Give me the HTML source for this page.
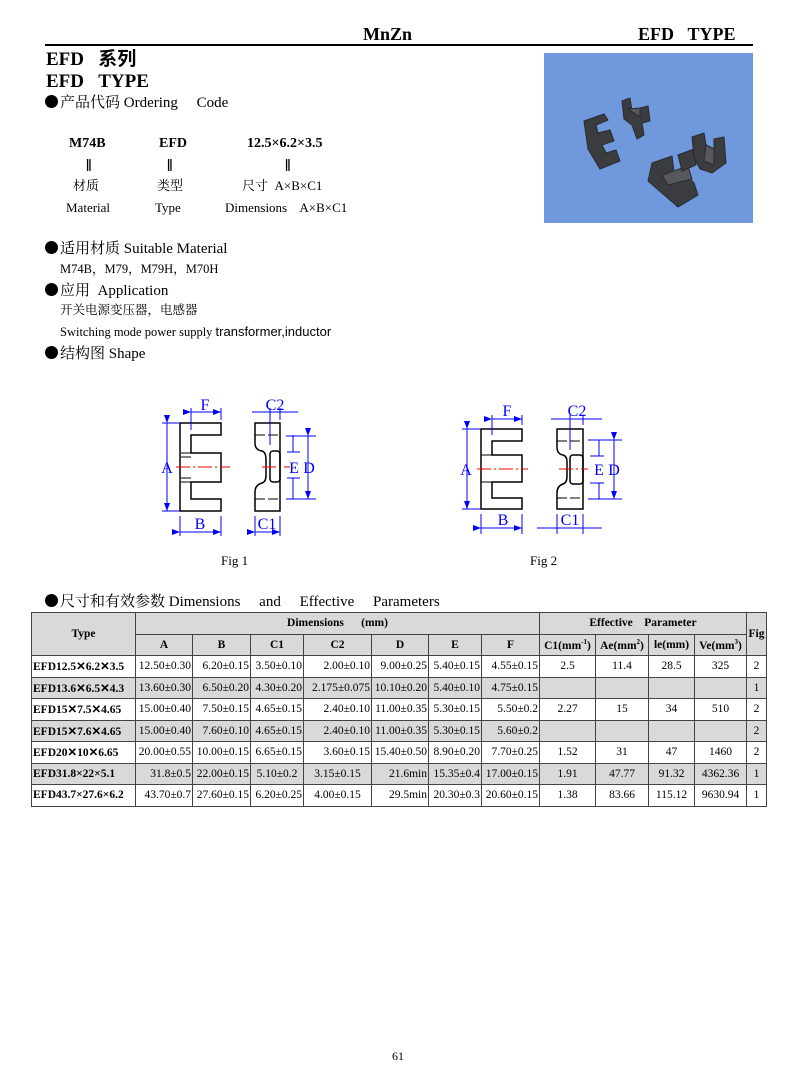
<!DOCTYPE html>
<html><head><meta charset="utf-8"><style>
body{margin:0;width:794px;height:1077px;background:#fff;position:relative;font-family:"Liberation Serif","Noto Serif CJK SC",serif;color:#000;overflow:hidden}
.t{position:absolute;white-space:nowrap;line-height:1}
.b{font-weight:bold}
.bu{display:inline-block;width:13px;height:13px;border-radius:50%;background:#000;margin-right:2px;vertical-align:-1px}
table{position:absolute;left:31px;top:612px;border-collapse:collapse;font-size:11.5px;font-family:"Liberation Serif",serif}
td{border:1px solid #444;padding:0 1px;height:20.5px;white-space:nowrap;text-align:right}
tr.g td{background:#d9d9d9}
td.h{background:#d9d9d9;font-weight:bold;text-align:center}
td.ty{font-weight:bold;text-align:left;font-size:11.5px}
td.c{text-align:center}
</style></head><body>
<div class="t b" style="left:363px;top:25px;font-size:18px">MnZn</div>
<div class="t b" style="left:638px;top:25px;font-size:18px">EFD&nbsp;&nbsp;&nbsp;TYPE</div>
<div style="position:absolute;left:45px;top:44px;width:708px;height:2px;background:#000"></div>
<div class="t b" style="left:46px;top:50px;font-size:19px;font-family:'Liberation Serif','Noto Sans CJK SC',serif">EFD&nbsp;&nbsp;&nbsp;系列</div>
<div class="t b" style="left:46px;top:72px;font-size:19px">EFD&nbsp;&nbsp;&nbsp;TYPE</div>
<div class="t" style="left:45px;top:95px;font-size:15px"><span class="bu"></span>产品代码 Ordering&nbsp;&nbsp;&nbsp;&nbsp;&nbsp;Code</div>
<div class="t b" style="left:69px;top:137px;font-size:14px">M74B</div>
<div class="t b" style="left:159px;top:137px;font-size:14px">EFD</div>
<div class="t b" style="left:247px;top:137px;font-size:14px">12.5×6.2×3.5</div>
<div class="t b" style="left:86px;top:157px;font-size:17px">‖</div>
<div class="t b" style="left:167px;top:157px;font-size:17px">‖</div>
<div class="t b" style="left:285px;top:157px;font-size:17px">‖</div>
<div class="t" style="left:73px;top:179px;font-size:13px">材质</div>
<div class="t" style="left:157px;top:179px;font-size:13px">类型</div>
<div class="t" style="left:242px;top:179px;font-size:13px">尺寸&nbsp; A×B×C1</div>
<div class="t" style="left:66px;top:201px;font-size:13px">Material</div>
<div class="t" style="left:155px;top:201px;font-size:13px">Type</div>
<div class="t" style="left:225px;top:201px;font-size:13px">Dimensions&nbsp;&nbsp;&nbsp; A×B×C1</div>

<div style="position:absolute;left:544px;top:53px;width:209px;height:170px;background:#6f99dc;overflow:hidden">
<svg width="209" height="170">
<g fill="#3a3c40" stroke="#2a2a2e" stroke-width="1">
<path d="M40 68 L60 61 L64 67 L52 72 L54 80 L66 77 L70 88 L58 92 L62 100 L72 97 L76 108 L56 116 L44 96 Z"/>
<path d="M78 48 L86 45 L88 58 L96 64 L96 55 L104 53 L106 68 L98 70 L100 82 L93 86 L88 72 L80 66 Z"/>
<path d="M84 56 L96 55 L96 64 Z" fill="#55585e"/>
<path d="M104 128 L108 110 L128 103 L130 118 L118 122 L124 130 L144 124 L150 130 L154 142 L134 154 Z"/>
<path d="M118 122 L144 113 L148 126 L124 132 Z" fill="#55585e"/>
<path d="M134 102 L150 96 L152 112 L138 118 Z"/>
<path d="M148 84 L160 80 L162 92 L170 96 L170 86 L180 84 L182 110 L168 120 L156 116 L150 104 Z"/>
<path d="M162 92 L170 96 L170 112 L160 108 Z" fill="#55585e"/>
</g>
</svg></div>

<div class="t" style="left:45px;top:241px;font-size:15px"><span class="bu"></span>适用材质 Suitable Material</div>
<div class="t" style="left:60px;top:263px;font-size:12.5px">M74B，M79，M79H，M70H</div>
<div class="t" style="left:45px;top:283px;font-size:15px"><span class="bu"></span>应用&nbsp; Application</div>
<div class="t" style="left:60px;top:304px;font-size:12.5px">开关电源变压器，电感器</div>
<div class="t" style="left:60px;top:325px;font-size:12.5px">Switching mode power supply <span style="font-family:'Liberation Sans',sans-serif;font-size:13px">transformer,inductor</span></div>
<div class="t" style="left:45px;top:346px;font-size:15px"><span class="bu"></span>结构图 Shape</div>

<svg style="position:absolute;left:0;top:0" width="794" height="600">
<defs><marker id="ar" markerWidth="8" markerHeight="6" refX="8" refY="3" orient="auto"><path d="M0,0 L8,3 L0,6 Z" fill="#00f"/></marker></defs>
<g fill="none" stroke="#000" stroke-width="1.5">
<path d="M180 423 H221 V435 H191 V453 H221 V482 H191 V499 H221 V511 H180 Z"/>
<path d="M181 453 H191 M181 457 H191 M181 478 H191 M181 482 H191" stroke-width="1"/>
<path d="M255 423 H280 V511 H255 V492 Q255 485 262 483 Q266 482 266 475 V460 Q266 452 262 451 Q255 450 255 443 Z"/>
<rect x="270" y="451" width="10" height="31" rx="3"/>
<path d="M255 435 H280 M255 499 H280" stroke-dasharray="10 3" stroke-width="1"/>
<path d="M481 429 H522 V441 H492 V455 H522 V482 H492 V498 H522 V509 H481 Z"/>
<path d="M481 455 H492 M481 482 H492" stroke-width="1"/>
<path d="M557 429 H583 V509 H557 V493 Q557 486 563 484 Q567 483 567 476 V462 Q567 456 563 455 Q557 454 557 447 Z"/>
<rect x="570" y="455" width="13" height="29" rx="3"/>
<path d="M557 441 H583 M557 498 H583" stroke-dasharray="10 3" stroke-width="1"/>
</g>
<g stroke="#e00" stroke-width="1" stroke-dasharray="14 3 2 3">
<path d="M176 467 H230 M262 467 H290"/>
<path d="M477 469 H528 M559 469 H588"/>
</g>
<g stroke="#00f" stroke-width="1" fill="none">
<path d="M191 412 H221" marker-end="url(#ar)" marker-start="url(#ar)"/><path d="M191 408 V430 M221 408 V420"/>
<path d="M167 423 V511" marker-end="url(#ar)" marker-start="url(#ar)"/><path d="M162 423 H180 M162 511 H180"/>
<path d="M180 532 H221" marker-end="url(#ar)" marker-start="url(#ar)"/><path d="M180 516 V536 M221 516 V536"/>
<path d="M255 532 H280" marker-end="url(#ar)" marker-start="url(#ar)"/><path d="M255 516 V536 M280 516 V536"/>
<path d="M252 412 H298"/><path d="M270 408 V445 M280 408 V420"/>
<path d="M293 435 V452 M293 478 V499"/><path d="M286 436 H316 M286 499 H316 M287 452 H300 M287 478 H300"/>
<path d="M308 436 V499" marker-end="url(#ar)" marker-start="url(#ar)"/>
<path d="M492 419 H522" marker-end="url(#ar)" marker-start="url(#ar)"/><path d="M492 415 V435 M522 415 V425"/>
<path d="M467 429 V509" marker-end="url(#ar)" marker-start="url(#ar)"/><path d="M462 429 H481 M462 509 H481"/>
<path d="M481 528 H522" marker-end="url(#ar)" marker-start="url(#ar)"/><path d="M481 514 V534 M522 514 V534"/>
<path d="M537 528 H602"/><path d="M557 514 V534 M583 514 V534"/>
<path d="M551 419 H602"/><path d="M570 415 V450 M583 415 V425"/>
<path d="M599 440 V456 M599 483 V499"/><path d="M588 440 H622 M588 499 H622 M590 456 H604 M590 483 H604"/>
<path d="M614 440 V499" marker-end="url(#ar)" marker-start="url(#ar)"/>
</g>
<g fill="#00f" font-family="Liberation Serif, serif" font-size="16" text-anchor="middle">
<text x="205" y="410">F</text><text x="275" y="410">C2</text><text x="167" y="473">A</text>
<text x="294" y="473">E</text><text x="309" y="473">D</text><text x="200" y="529">B</text><text x="267" y="529">C1</text>
<text x="507" y="416">F</text><text x="577" y="416">C2</text><text x="466" y="475">A</text>
<text x="599" y="475">E</text><text x="614" y="475">D</text><text x="503" y="525">B</text><text x="570" y="525">C1</text>
</g>
</svg>
<div class="t" style="left:221px;top:554px;font-size:13px">Fig 1</div>
<div class="t" style="left:530px;top:554px;font-size:13px">Fig 2</div>
<div class="t" style="left:45px;top:594px;font-size:15px"><span class="bu"></span>尺寸和有效参数 Dimensions&nbsp;&nbsp;&nbsp;&nbsp; and&nbsp;&nbsp;&nbsp;&nbsp; Effective&nbsp;&nbsp;&nbsp;&nbsp; Parameters</div>

<table>
<colgroup><col style="width:104px"><col style="width:57px"><col style="width:58px"><col style="width:53px"><col style="width:68px"><col style="width:57px"><col style="width:53px"><col style="width:58px"><col style="width:56px"><col style="width:53px"><col style="width:46px"><col style="width:52px"><col style="width:20px"></colgroup>
<tr><td class="h" rowspan="2">Type</td><td class="h" colspan="7">Dimensions&nbsp;&nbsp;&nbsp;&nbsp;&nbsp; (mm)</td><td class="h" colspan="4">Effective&nbsp;&nbsp;&nbsp; Parameter</td><td class="h" rowspan="2">Fig</td></tr>
<tr><td class="h">A</td><td class="h">B</td><td class="h">C1</td><td class="h">C2</td><td class="h">D</td><td class="h">E</td><td class="h">F</td><td class="h">C1(mm<sup style="font-size:7px">-1</sup>)</td><td class="h">Ae(mm<sup style="font-size:7px">2</sup>)</td><td class="h">le(mm)</td><td class="h">Ve(mm<sup style="font-size:7px">3</sup>)</td></tr>
<tr><td class="ty">EFD12.5✕6.2✕3.5</td><td>12.50±0.30</td><td>6.20±0.15</td><td>3.50±0.10</td><td>2.00±0.10</td><td>9.00±0.25</td><td>5.40±0.15</td><td>4.55±0.15</td><td class="c">2.5</td><td class="c">11.4</td><td class="c">28.5</td><td class="c">325</td><td class="c">2</td></tr>
<tr class="g"><td class="ty">EFD13.6✕6.5✕4.3</td><td>13.60±0.30</td><td>6.50±0.20</td><td>4.30±0.20</td><td>2.175±0.075</td><td>10.10±0.20</td><td>5.40±0.10</td><td>4.75±0.15</td><td></td><td></td><td></td><td></td><td class="c">1</td></tr>
<tr><td class="ty">EFD15✕7.5✕4.65</td><td>15.00±0.40</td><td>7.50±0.15</td><td>4.65±0.15</td><td>2.40±0.10</td><td>11.00±0.35</td><td>5.30±0.15</td><td>5.50±0.2</td><td class="c">2.27</td><td class="c">15</td><td class="c">34</td><td class="c">510</td><td class="c">2</td></tr>
<tr class="g"><td class="ty">EFD15✕7.6✕4.65</td><td>15.00±0.40</td><td>7.60±0.10</td><td>4.65±0.15</td><td>2.40±0.10</td><td>11.00±0.35</td><td>5.30±0.15</td><td>5.60±0.2</td><td></td><td></td><td></td><td></td><td class="c">2</td></tr>
<tr><td class="ty">EFD20✕10✕6.65</td><td>20.00±0.55</td><td>10.00±0.15</td><td>6.65±0.15</td><td>3.60±0.15</td><td>15.40±0.50</td><td>8.90±0.20</td><td>7.70±0.25</td><td class="c">1.52</td><td class="c">31</td><td class="c">47</td><td class="c">1460</td><td class="c">2</td></tr>
<tr class="g"><td class="ty">EFD31.8×22×5.1</td><td>31.8±0.5</td><td>22.00±0.15</td><td class="c">5.10±0.2</td><td class="c">3.15±0.15</td><td>21.6min</td><td>15.35±0.4</td><td>17.00±0.15</td><td class="c">1.91</td><td class="c">47.77</td><td class="c">91.32</td><td class="c">4362.36</td><td class="c">1</td></tr>
<tr><td class="ty">EFD43.7×27.6×6.2</td><td>43.70±0.7</td><td>27.60±0.15</td><td>6.20±0.25</td><td class="c">4.00±0.15</td><td>29.5min</td><td>20.30±0.3</td><td>20.60±0.15</td><td class="c">1.38</td><td class="c">83.66</td><td class="c">115.12</td><td class="c">9630.94</td><td class="c">1</td></tr>
</table>
<div class="t" style="left:392px;top:1050px;font-size:12px">61</div>
</body></html>
